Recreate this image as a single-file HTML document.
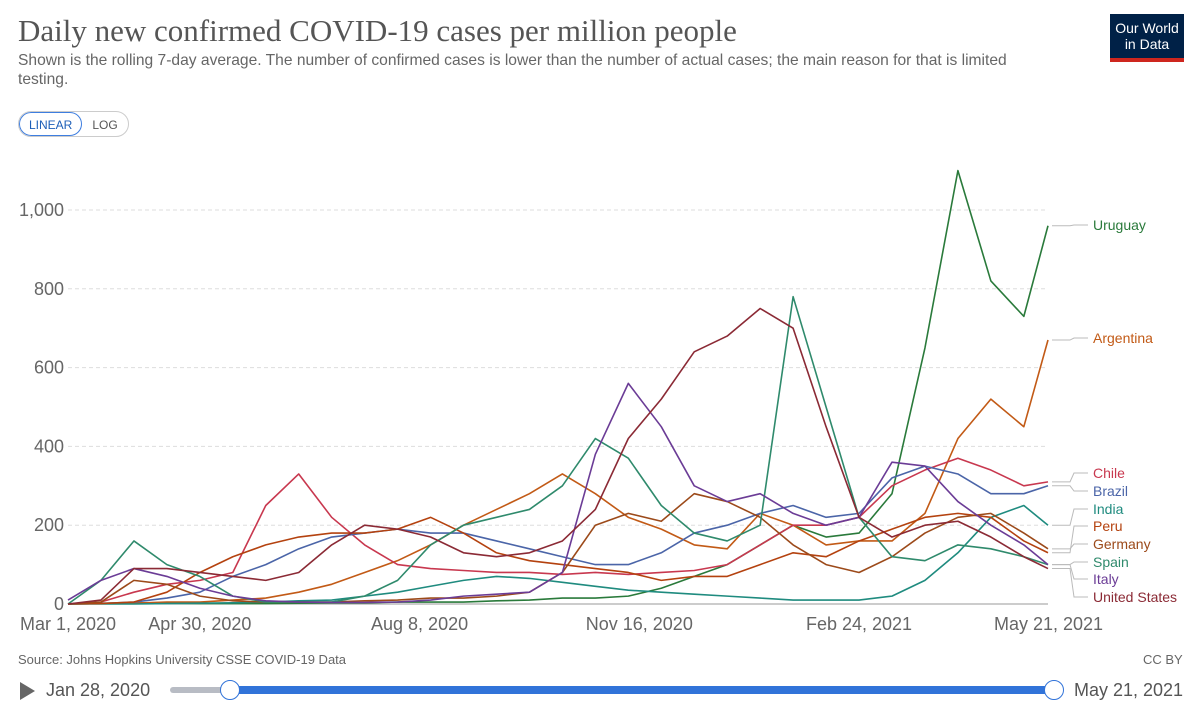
<!DOCTYPE html>
<html><head><meta charset="utf-8"><style>
body{margin:0;width:1200px;height:716px;background:#fff;font-family:"Liberation Sans",sans-serif;overflow:hidden;position:relative}
.t{position:absolute}
</style></head><body>
<div class="t" style="left:18px;top:13px;font-family:'Liberation Serif',serif;font-size:31px;color:#555">Daily new confirmed COVID-19 cases per million people</div>
<div class="t" style="left:18px;top:51px;width:1020px;font-size:15.6px;line-height:19px;color:#666">Shown is the rolling 7-day average. The number of confirmed cases is lower than the number of actual cases; the main reason for that is limited testing.</div>
<div class="t" style="left:1110px;top:14px;width:74px;height:48px;background:#002147;color:#fff;font-size:14px;line-height:16px;text-align:center;padding-top:6px;box-sizing:border-box;border-bottom:4px solid #ce261e">Our World<br>in Data</div>
<div class="t" style="left:18px;top:111px;height:24px;border:1px solid #ccc;border-radius:13px;display:flex;font-size:12px;overflow:hidden">
<div style="padding:5px 9px;color:#1d5fb8;border:1px solid #3e7ee0;border-radius:13px">LINEAR</div>
<div style="padding:6px 10px;color:#555">LOG</div></div>
<svg id="c" width="1200" height="716" style="position:absolute;left:0;top:0"></svg>
<div class="t" style="left:18px;top:652px;font-size:13px;color:#666">Source: Johns Hopkins University CSSE COVID-19 Data</div>
<div class="t" style="left:1143px;top:652px;font-size:13px;color:#666">CC BY</div>
<div class="t" style="left:20px;top:682px;width:0;height:0;border-left:15px solid #666;border-top:9px solid transparent;border-bottom:9px solid transparent"></div>
<div class="t" style="left:46px;top:680px;font-size:18px;color:#555">Jan 28, 2020</div>
<div class="t" style="left:170px;top:687px;width:60px;height:6px;background:#b8bcc4;border-radius:3px"></div>
<div class="t" style="left:230px;top:686px;width:824px;height:8px;background:#3173d9"></div>
<div class="t" style="left:220px;top:680px;width:18px;height:18px;border-radius:50%;background:#fff;border:1px solid #3173d9"></div>
<div class="t" style="left:1044px;top:680px;width:18px;height:18px;border-radius:50%;background:#fff;border:1px solid #3173d9"></div>
<div class="t" style="left:1074px;top:680px;font-size:18px;color:#555">May 21, 2021</div>
<script>
const days=[0,15,30,45,60,75,90,105,120,135,150,165,180,195,210,225,240,255,270,285,300,315,330,345,360,375,390,405,420,435,446];
const yTicks=[0,200,400,600,800,1000];
const xTickDays=[0,60,160,260,360,446];
const xTickLabels=["Mar 1, 2020","Apr 30, 2020","Aug 8, 2020","Nov 16, 2020","Feb 24, 2021","May 21, 2021"];
const uruguay=[0,2,3,2,1,1,1,2,3,3,5,5,5,8,10,15,15,20,40,70,100,150,200,170,180,280,650,1100,820,730,960];
const argentina=[0,1,2,5,5,10,15,30,50,80,110,150,200,240,280,330,280,220,190,150,140,230,200,150,160,160,230,420,520,450,670];
const chile=[0,5,30,50,60,80,250,330,220,150,100,90,85,80,80,75,80,75,80,85,100,150,200,200,220,300,340,370,340,300,310];
const brazil=[0,1,5,15,30,70,100,140,170,180,190,180,180,160,140,120,100,100,130,180,200,230,250,220,230,320,350,330,280,280,300];
const india=[0,0,0,1,2,3,5,8,10,20,30,45,60,70,65,55,45,35,30,25,20,15,10,10,10,20,60,130,220,250,200];
const peru=[0,1,5,30,80,120,150,170,180,180,190,220,180,130,110,100,90,80,60,70,70,100,130,120,160,190,220,230,220,160,130];
const germany=[0,5,60,50,20,8,5,5,5,8,10,15,15,20,30,80,200,230,210,280,260,220,150,100,80,120,180,220,230,180,140];
const spain=[0,60,160,100,70,20,5,5,5,20,60,150,200,220,240,300,420,370,250,180,160,200,780,500,220,120,110,150,140,120,100];
const italy=[10,60,90,70,40,20,8,5,4,4,5,10,20,25,30,80,380,560,450,300,260,280,230,200,220,360,350,260,200,150,100];
const us=[0,10,90,90,80,70,60,80,150,200,190,170,130,120,130,160,240,420,520,640,680,750,700,450,220,170,200,210,170,120,90];
const seriesNames=["Uruguay","Argentina","Chile","Brazil","India","Peru","Germany","Spain","Italy","United States"];
const seriesValues=[uruguay,argentina,chile,brazil,india,peru,germany,spain,italy,us];
const colors=["#2a7a3b","#c25a16","#c8384f","#4b65a8","#1f8b7f","#b4420f","#9c4a1a","#2f8a6c","#6b3c96","#8b2a35"];
const labelY=[230,343,478,496,514,531,549,567,584,602];
const X0=68,X1=1048,Y0=604,YS=0.394;
const x=d=>X0+(X1-X0)*d/446, y=v=>Y0-v*YS;
const svg=document.getElementById('c'),NS="http://www.w3.org/2000/svg";
function mk(t,a){const e=document.createElementNS(NS,t);for(const k in a)e.setAttribute(k,a[k]);svg.appendChild(e);return e;}
yTicks.forEach(v=>{
 const l=mk('line',{x1:X0,x2:X1,y1:y(v),y2:y(v),stroke:v?'#ddd':'#999','stroke-dasharray':v?'4,3':''});
 
 
 const t=mk('text',{x:64,y:y(v)+6,'text-anchor':'end','font-size':18,fill:'#666'});t.textContent=v.toLocaleString('en-US');
 
 
});
xTickDays.forEach((d,i)=>{
 const t=mk('text',{x:x(d)+(i==0?-48:i==5?-54:0),y:630,'text-anchor':i==0?'start':i==5?'start':'middle','font-size':18,fill:'#666'});t.textContent=xTickLabels[i];
 
 
});
seriesValues.forEach((vals,i)=>{
 const p=mk('polyline',{points:vals.map((v,j)=>x(days[j])+','+y(v)).join(' '),fill:'none',stroke:colors[i],'stroke-width':1.6,'stroke-linejoin':'round'});
 
 
 const ye=y(vals[vals.length-1]);
 mk('polyline',{points:`${X1+4},${ye} ${X1+22},${ye} ${X1+26},${labelY[i]-5} ${X1+40},${labelY[i]-5}`,fill:'none',stroke:'#bbb','stroke-width':1});
 const t=mk('text',{x:1093,y:labelY[i],'font-size':14,fill:colors[i]});t.textContent=seriesNames[i];
 
 
});
</script>
</body></html>
